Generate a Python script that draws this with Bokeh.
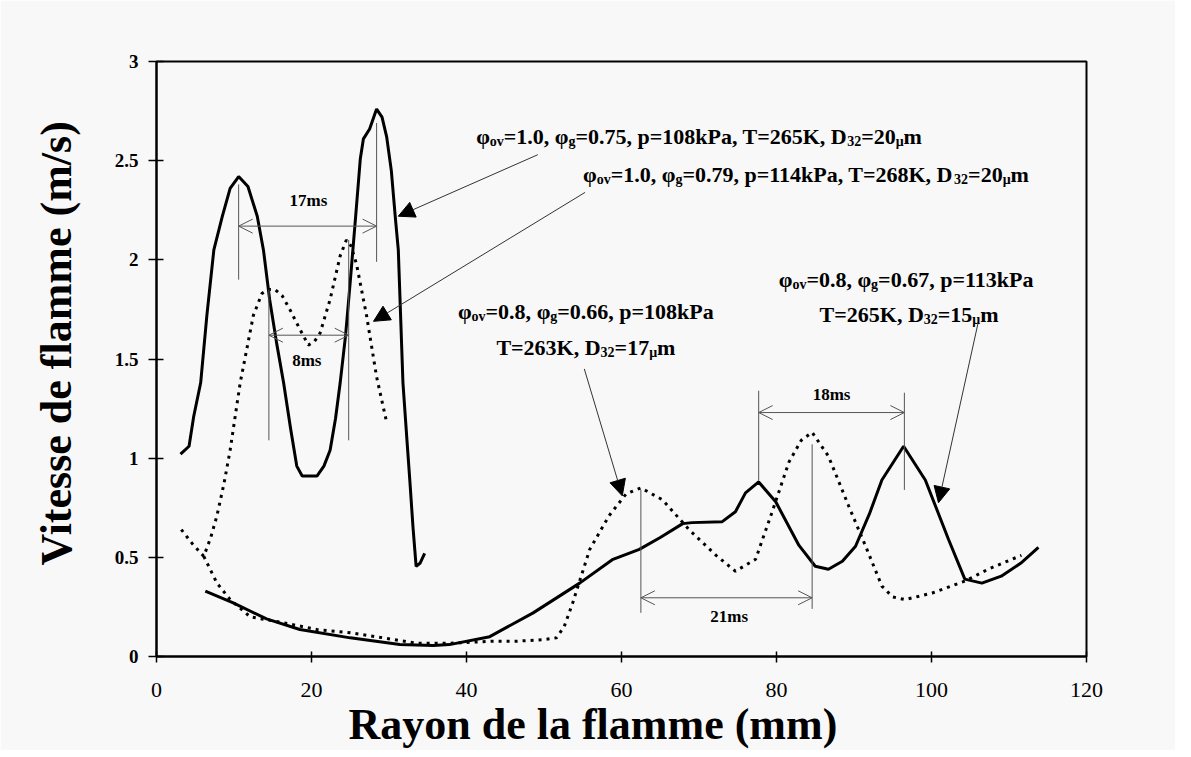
from bokeh.plotting import figure
from bokeh.models import ColumnDataSource, Range1d, FixedTicker, Arrow, OpenHead, NormalHead, Title
from bokeh.core.properties import value
from bokeh.embed import file_html
from bokeh.resources import INLINE

# ---------------- data ----------------
x_ticks = [0, 20, 40, 60, 80, 100, 120]
y_ticks = [0, 0.5, 1, 1.5, 2, 2.5, 3]
y_tick_labels = ["0", "0.5", "1", "1.5", "2", "2.5", "3"]
x_title = "Rayon de la flamme (mm)"
y_title = "Vitesse de flamme (m/s)"

# phi_ov=1.0, phi_g=0.75 (solid, upper)
a_x = [3.1, 4.2, 4.8, 5.7, 6.5, 7.4, 8.5, 9.5, 10.6, 11.8, 13.0, 13.8, 14.6, 15.5, 16.4, 17.3,
       18.1, 18.8, 20.7, 21.6, 22.4, 23.1, 23.7, 24.4, 25.0, 25.7, 26.3, 26.7, 27.5, 28.4, 29.1,
       29.7, 30.3, 30.8, 31.2, 31.8, 32.3, 32.7, 33.1, 33.5, 34.0, 34.6]
a_y = [1.02, 1.06, 1.21, 1.38, 1.72, 2.05, 2.22, 2.36, 2.42, 2.37, 2.22, 2.05, 1.80, 1.58, 1.38, 1.15,
       0.96, 0.91, 0.91, 0.96, 1.04, 1.20, 1.38, 1.62, 1.89, 2.22, 2.51, 2.61, 2.66, 2.76, 2.72,
       2.62, 2.45, 2.22, 2.05, 1.38, 1.10, 0.88, 0.65, 0.455, 0.47, 0.52]

# phi_ov=1.0, phi_g=0.79 (dotted, upper)
b_x = [3.2, 4.6, 6.1, 7.0, 7.8, 8.7, 9.5, 10.8, 11.7, 12.5, 13.6, 14.4, 15.3, 16.2, 17.2, 18.5,
       19.6, 20.4, 21.1, 22.4, 23.7, 24.5, 25.1, 25.8, 27.1, 28.4, 29.7]
b_y = [0.64, 0.57, 0.505, 0.60, 0.71, 0.87, 1.04, 1.38, 1.56, 1.72, 1.83, 1.85, 1.85, 1.82, 1.75, 1.65,
       1.57, 1.59, 1.63, 1.80, 2.02, 2.10, 2.07, 1.98, 1.72, 1.41, 1.18]

# phi_ov=0.8, phi_g=0.66 (dotted, lower)
d_x = [6.1, 7.8, 9.5, 12.1, 16.4, 20.7, 25.0, 29.3, 33.5, 37.8, 43.4, 46.4, 50.0, 51.6, 52.6, 53.7,
       55.9, 58.4, 60.6, 62.5, 65.3, 68.7, 72.2, 74.7, 77.3, 79.4, 81.6, 83.2, 84.6, 86.7, 89.3,
       91.5, 93.6, 95.0, 96.6, 100.1, 104.3, 107.3, 111.6]
d_y = [0.505, 0.37, 0.287, 0.20, 0.17, 0.136, 0.12, 0.094, 0.067, 0.067, 0.077, 0.077, 0.085, 0.094,
       0.15, 0.27, 0.54, 0.71, 0.82, 0.85, 0.79, 0.64, 0.51, 0.43, 0.49, 0.725, 0.98, 1.09, 1.13,
       1.01, 0.76, 0.556, 0.355, 0.30, 0.287, 0.32, 0.38, 0.44, 0.51]

# phi_ov=0.8, phi_g=0.67 (solid, lower)
c_x = [6.3, 9.9, 14.2, 18.5, 25.0, 31.4, 35.7, 37.8, 43.0, 48.6, 54.6, 58.9, 62.3, 65.0, 67.9, 69.1,
       73.0, 74.7, 76.0, 77.7, 79.9, 82.9, 85.0, 86.7, 88.5, 90.2, 92.0, 93.6, 96.4, 99.2, 102.2,
       104.3, 106.5, 109.0, 111.5, 113.8]
c_y = [0.33, 0.27, 0.19, 0.136, 0.094, 0.06, 0.055, 0.06, 0.10, 0.22, 0.37, 0.49, 0.54, 0.60, 0.67,
       0.675, 0.68, 0.73, 0.825, 0.88, 0.78, 0.56, 0.455, 0.44, 0.48, 0.556, 0.72, 0.89, 1.06, 0.89,
       0.59, 0.39, 0.37, 0.405, 0.47, 0.55]

# peak marker lines
mark_x = [10.6, 28.4, 14.5, 24.8, 62.5, 84.6, 77.7, 96.5]
mark_y0 = [1.90, 1.99, 1.09, 1.09, 0.22, 0.24, 0.885, 0.84]
mark_y1 = [2.38, 2.69, 1.85, 2.10, 0.84, 1.07, 1.34, 1.33]

# period dimensions
dim_labels = ["17ms", "8ms", "21ms", "18ms"]
dim_x0 = [10.6, 14.5, 62.5, 77.7]
dim_x1 = [28.4, 24.8, 84.6, 96.5]
dim_y = [2.17, 1.62, 0.296, 1.23]
dim_lx = [19.6, 19.4, 73.9, 87.1]
dim_ly = [2.30, 1.49, 0.20, 1.32]

# pointer arrows
ptr_x0 = [49.2, 55.3, 55.2, 106.0]
ptr_y0 = [2.53, 2.34, 1.45, 1.68]
ptr_x1 = [31.2, 28.0, 60.1, 100.9]
ptr_y1 = [2.22, 1.69, 0.81, 0.775]

# condition labels: segments (text, kind) n = normal, s = subscript
lab1 = [("φ", "n"), ("ov", "s"), ("=1.0, ", "n"), ("φ", "n"), ("g", "s"),
        ("=0.75, p=108kPa, T=265K, D", "n"), ("32", "s"), ("=20", "n"), ("μ", "s"), ("m", "n")]
lab2 = [("φ", "n"), ("ov", "s"), ("=1.0, ", "n"), ("φ", "n"), ("g", "s"),
        ("=0.79, p=114kPa, T=268K, D", "n"), ("32", "s"), ("=20", "n"), ("μ", "s"), ("m", "n")]
lab3a = [("φ", "n"), ("ov", "s"), ("=0.8, ", "n"), ("φ", "n"), ("g", "s"), ("=0.66, p=108kPa", "n")]
lab3b = [("T=263K, D", "n"), ("32", "s"), ("=17", "n"), ("μ", "s"), ("m", "n")]
lab4a = [("φ", "n"), ("ov", "s"), ("=0.8, ", "n"), ("φ", "n"), ("g", "s"), ("=0.67, p=113kPa", "n")]
lab4b = [("T=265K, D", "n"), ("32", "s"), ("=15", "n"), ("μ", "s"), ("m", "n")]
ann_labels = [lab1, lab2, lab3a, lab3b, lab4a, lab4b]
ann_x = [70.0, 83.8, 55.4, 55.4, 96.8, 97.1]
ann_y = [2.622, 2.431, 1.740, 1.558, 1.901, 1.725]

# ---------------- styling ----------------
FONT = "Liberation Serif"
BG = "#f8f8f8"
ANN_FS = 22
SUB_FS = 14
W = {' ': 250, ',': 250, '.': 250, '=': 570, 'D': 722, 'K': 778, 'P': 611, 'T': 667,
     'a': 500, 'g': 500, 'k': 556, 'm': 833, 'o': 500, 'p': 556, 'v': 500, 's': 389,
     'φ': 620, 'μ': 560}


def tw(s, fs):
    return sum(W.get(ch, 500) for ch in s) / 1000.0 * fs


p = figure(width=1175, height=750, output_backend="svg", toolbar_location=None,
           x_range=Range1d(0, 120), y_range=Range1d(0, 3),
           min_border_left=156, min_border_right=89, min_border_top=61, min_border_bottom=86)
p.background_fill_color = BG
p.border_fill_color = BG
p.outline_line_color = "black"
p.outline_line_width = 2
p.xgrid.visible = False
p.ygrid.visible = False

p.xaxis.ticker = FixedTicker(ticks=x_ticks)
p.yaxis.ticker = FixedTicker(ticks=y_ticks)
p.yaxis.major_label_overrides = {t: l for t, l in zip(y_ticks, y_tick_labels)}
for ax in (p.xaxis, p.yaxis):
    ax.axis_line_width = 2
    ax.axis_line_color = "black"
    ax.major_tick_line_color = "black"
    ax.major_tick_line_width = 1.5
    ax.minor_tick_line_color = None
    ax.major_label_text_color = "black"
    ax.major_label_text_font = FONT
p.xaxis.major_tick_in = 5
p.xaxis.major_tick_out = 6
p.xaxis.major_label_text_font_size = "22px"
p.xaxis.major_label_standoff = 20
p.yaxis.major_tick_in = 7
p.yaxis.major_tick_out = 8
p.yaxis.major_label_text_font_size = "19px"
p.yaxis.major_label_text_font_style = "bold"
p.yaxis.major_label_standoff = 10

xt = Title(text=x_title, align="left", offset=192, standoff=0, vertical_align="top",
           text_font=FONT, text_font_size="44px", text_font_style="bold", text_color="black")
p.add_layout(xt, "below")
yt = Title(text=y_title, align="left", offset=91, standoff=58, vertical_align="top",
           text_font=FONT, text_font_size="44px", text_font_style="bold", text_color="black")
p.add_layout(yt, "left")

# curves
p.line(a_x, a_y, line_color="black", line_width=3)
p.line(c_x, c_y, line_color="black", line_width=3)
p.line(b_x, b_y, line_color="black", line_width=3, line_dash="3 5")
p.line(d_x, d_y, line_color="black", line_width=3, line_dash="3 5")

# peak markers
p.segment(x0=mark_x, y0=mark_y0, x1=mark_x, y1=mark_y1, line_color="#555555", line_width=1)

# dimension arrows
for x0, x1, y in zip(dim_x0, dim_x1, dim_y):
    p.add_layout(Arrow(x_start=x0, y_start=y, x_end=x1, y_end=y,
                       start=OpenHead(size=14, line_color="#555555", line_width=1),
                       end=OpenHead(size=14, line_color="#555555", line_width=1),
                       line_color="#555555", line_width=1))
p.text(x=dim_lx, y=dim_ly, text=dim_labels, text_font=value(FONT), text_font_size="17px",
       text_font_style="bold", text_align="center", text_baseline="middle", text_color="black")

# pointer arrows
for x0, y0, x1, y1 in zip(ptr_x0, ptr_y0, ptr_x1, ptr_y1):
    p.add_layout(Arrow(x_start=x0, y_start=y0, x_end=x1, y_end=y1,
                       end=NormalHead(size=16, fill_color="black", line_color="black", line_width=1),
                       line_color="#333333", line_width=1))

# condition labels built from segments
sx, sy, st, sxo, syo, sfs = [], [], [], [], [], []
for segs, axx, ayy in zip(ann_labels, ann_x, ann_y):
    total = sum(tw(t, ANN_FS if k == "n" else SUB_FS) for t, k in segs)
    cur = -total / 2.0
    for t, k in segs:
        fs = ANN_FS if k == "n" else SUB_FS
        sx.append(axx)
        sy.append(ayy)
        st.append(t)
        sxo.append(cur)
        syo.append(0 if k == "n" else 5)
        sfs.append("%dpx" % fs)
        cur += tw(t, fs)
src = ColumnDataSource(dict(x=sx, y=sy, text=st, xo=sxo, yo=syo, fs=sfs))
p.text(x="x", y="y", text="text", x_offset="xo", y_offset="yo", text_font_size="fs",
       source=src, text_font=value(FONT), text_font_style="bold", text_align="left",
       text_baseline="alphabetic", text_color="black")

open("out.html", "w").write(file_html(p, INLINE))
